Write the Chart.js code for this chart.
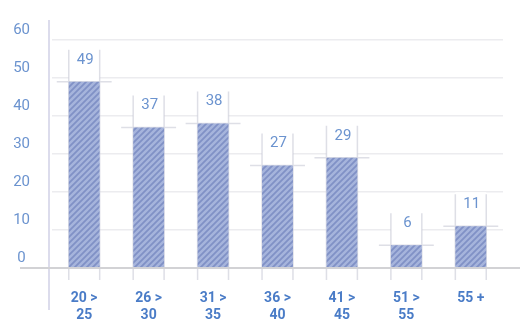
<!DOCTYPE html>
<html>
<head>
<meta charset="utf-8">
<script src="https://cdn.jsdelivr.net/npm/chart.js@4/dist/chart.umd.min.js"></script>
<style>
  html, body { margin: 0; padding: 0; background: #ffffff; }
  #wrap { width: 520px; height: 325px; position: relative; }
</style>
</head>
<body>
<div id="wrap"><canvas id="c" width="520" height="325"></canvas></div>
<script>
// Age bands (two-line labels) and headcount per band
const categories = [["20 >", "25"], ["26 >", "30"], ["31 >", "35"], ["36 >", "40"], ["41 >", "45"], ["51 >", "55"], ["55 +"]];
const counts = [49, 37, 38, 27, 29, 6, 11];
const yTicks = [0, 10, 20, 30, 40, 50, 60];

const BLUE_TEXT = '#6b93cf';

// Diagonal hatch fill for the bars
function makeHatch() {
  const s = 6;
  const p = document.createElement('canvas');
  p.width = s; p.height = s;
  const g = p.getContext('2d');
  g.fillStyle = '#a6b4dc';
  g.fillRect(0, 0, s, s);
  g.strokeStyle = '#8091c6';
  g.lineWidth = 1.8;
  g.beginPath();
  g.moveTo(-1, s + 1); g.lineTo(s + 1, -1);
  g.moveTo(-1 - s, s + 1); g.lineTo(1, -1);
  g.moveTo(s - 1, s + 1); g.lineTo(2 * s + 1, -1);
  g.stroke();
  return g.createPattern(p, 'repeat');
}

// Draws axis lines, label boxes, guide strokes around bars and the value labels
const decorations = {
  id: 'decorations',
  beforeDatasetsDraw(chart) {
    const ctx = chart.ctx;
    const area = chart.chartArea;
    const meta = chart.getDatasetMeta(0);
    ctx.save();
    // white boxes behind the value labels
    meta.data.forEach((bar) => {
      const w = bar.width;
      ctx.fillStyle = '#ffffff';
      ctx.fillRect(bar.x - w / 2, bar.y - 34, w, 34);
    });
    // faint guide strokes
    ctx.strokeStyle = 'rgba(200,202,214,0.6)';
    ctx.lineWidth = 1.5;
    meta.data.forEach((bar) => {
      const w = bar.width;
      ctx.beginPath();
      ctx.moveTo(bar.x - w / 2, bar.y - 32);
      ctx.lineTo(bar.x - w / 2, area.bottom + 12);
      ctx.moveTo(bar.x + w / 2, bar.y - 32);
      ctx.lineTo(bar.x + w / 2, area.bottom + 12);
      ctx.moveTo(bar.x - w / 2 - 12, bar.y);
      ctx.lineTo(bar.x + w / 2 + 12, bar.y);
      ctx.stroke();
    });
    // vertical axis line
    ctx.strokeStyle = '#dcdcec';
    ctx.lineWidth = 2;
    ctx.beginPath();
    ctx.moveTo(area.left - 3, area.top - 20);
    ctx.lineTo(area.left - 3, area.bottom + 42);
    ctx.stroke();
    ctx.restore();
  },
  afterDatasetsDraw(chart) {
    const ctx = chart.ctx;
    const area = chart.chartArea;
    const meta = chart.getDatasetMeta(0);
    const ds = chart.data.datasets[0];
    ctx.save();
    // baseline
    ctx.strokeStyle = '#d2d2d5';
    ctx.lineWidth = 2;
    ctx.beginPath();
    ctx.moveTo(20, area.bottom);
    ctx.lineTo(520, area.bottom);
    ctx.stroke();
    // value labels
    ctx.fillStyle = BLUE_TEXT;
    ctx.font = '15px Roboto, "Open Sans", sans-serif';
    ctx.textAlign = 'center';
    ctx.textBaseline = 'middle';
    meta.data.forEach((bar, i) => {
      ctx.fillText(String(ds.data[i]), bar.x + 1, bar.y - 22);
    });
    ctx.restore();
  }
};

new Chart(document.getElementById('c'), {
  type: 'bar',
  data: {
    labels: categories,
    datasets: [{
      data: counts,
      backgroundColor: makeHatch(),
      borderWidth: 0,
      categoryPercentage: 1,
      barPercentage: 0.48
    }]
  },
  options: {
    responsive: false,
    animation: false,
    layout: { padding: { top: 40, right: 17, left: 0, bottom: 0 } },
    plugins: { legend: { display: false }, tooltip: { enabled: false } },
    scales: {
      x: {
        grid: { display: false },
        border: { display: false },
        ticks: {
          color: '#4a7cc7',
          font: { family: 'Roboto, "Open Sans", sans-serif', size: 14, weight: 'bold' },
          padding: 14,
          maxRotation: 0
        },
        afterFit(scale) { scale.height = 57; }
      },
      y: {
        min: 0,
        max: 60,
        afterBuildTicks(scale) { scale.ticks = yTicks.map(v => ({ value: v })); },
        grid: { color: '#ececef', lineWidth: 1.5, drawTicks: false },
        border: { display: false },
        ticks: {
          color: BLUE_TEXT,
          font: { family: 'Roboto, "Open Sans", sans-serif', size: 15 },
          padding: 22,
          crossAlign: 'center',
          labelOffset: -10
        },
        afterFit(scale) { scale.width = 52; }
      }
    }
  },
  plugins: [decorations]
});
</script>
</body>
</html>
